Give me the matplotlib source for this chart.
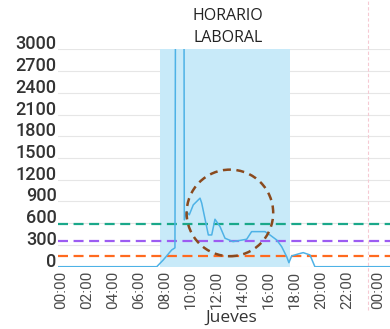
import matplotlib
matplotlib.use("Agg")
import matplotlib.pyplot as plt
from matplotlib.patches import Ellipse

# ----- data -----
hours = [0.0, 7.75, 8.25, 8.9, 9.15, 9.3, 9.78, 9.87, 10.05, 10.25, 10.56,
         11.08, 11.21, 11.72, 11.98, 12.23, 12.62, 13.0, 13.62, 14.67, 15.05,
         16.08, 16.46, 16.98, 17.36, 17.75, 17.92, 18.13, 18.64, 19.02, 19.54,
         19.92, 26.0]
values = [0, 0, 93, 231, 260, 12000, 12000, 646, 760, 715, 853,
          946, 877, 438, 438, 655, 553, 393, 346, 379, 484,
          484, 438, 369, 277, 138, 55, 148, 176, 194, 162,
          0, 0]

thresholds = [585, 350, 145]
threshold_colors = ["#1aa88a", "#9c5cf2", "#ff6a1f"]

work_start, work_end = 8, 18
yticks = list(range(0, 3001, 300))
tick_hours = [0, 2, 4, 6, 8, 10, 12, 14, 16, 18, 20, 22]
tick_names = ["00:00", "02:00", "04:00", "06:00", "08:00", "10:00", "12:00",
              "14:00", "16:00", "18:00", "20:00", "22:00"]
next_day_hour = 24
circle_center = (13.38, 742)

W, H = 390, 329
fig = plt.figure(figsize=(W / 100, H / 100), dpi=100)
ax = fig.add_axes([58 / W, (H - 266.7) / H, (W - 58) / W, 217.4 / H])

ax.set_xlim(0.15, 25.7)
ax.set_ylim(0, 3000)

# light grid
for v in yticks:
    ax.axhline(v, color="#e6e6e6", linewidth=0.8, zorder=0)

# working hours band
ax.axvspan(work_start, work_end, color="#c8eaf9", zorder=1, linewidth=0)

# day separator
ax.axvline(next_day_hour, ymin=-0.2, ymax=1.23, color="#f6c9d3",
           linewidth=0.8, linestyle=(0, (3, 2)), clip_on=False, zorder=1)

# thresholds
for t, c in zip(thresholds, threshold_colors):
    ax.axhline(t, color=c, linewidth=1.6, linestyle=(0, (4.5, 2.5)), zorder=3)

# data
ax.plot(hours, values, color="#4eb2e6", linewidth=1.1, zorder=4)

# dashed circle (round in pixels)
w_h = 86.6 / 13.0
h_v = 86.6 / 0.07247
ax.add_patch(Ellipse(circle_center, w_h, h_v, fill=False, edgecolor="#8a4a1e",
                     linewidth=1.8, linestyle=(0, (3.2, 2.2)), zorder=5))

for s in ax.spines.values():
    s.set_visible(False)

ax.set_yticks(yticks)
ax.set_yticklabels([str(v) for v in yticks], fontfamily="Roboto",
                   fontsize=13, color="#333333", fontweight="medium")
for lbl in ax.get_yticklabels():
    lbl.set_verticalalignment("baseline")
ax.tick_params(axis="y", length=0, pad=1)

ax.set_xticks([h + 0.4 for h in tick_hours] + [next_day_hour + 0.8])
ax.set_xticklabels(tick_names + ["00:00"], rotation=90, fontfamily="Roboto",
                   fontsize=11, color="#4a4a4a")
ax.tick_params(axis="x", length=0, pad=3)

fig.text(228 / W, 1 - 27 / H, "HORARIO\nLABORAL", ha="center", va="center",
         fontfamily="Open Sans", fontsize=11.5, color="#222222", linespacing=1.45)
fig.text(231.5 / W, 1 - 317.5 / H, "Jueves", ha="center", va="center",
         fontfamily="Open Sans", fontsize=12.5, color="#333333")

fig.savefig("out.png", dpi=100)
